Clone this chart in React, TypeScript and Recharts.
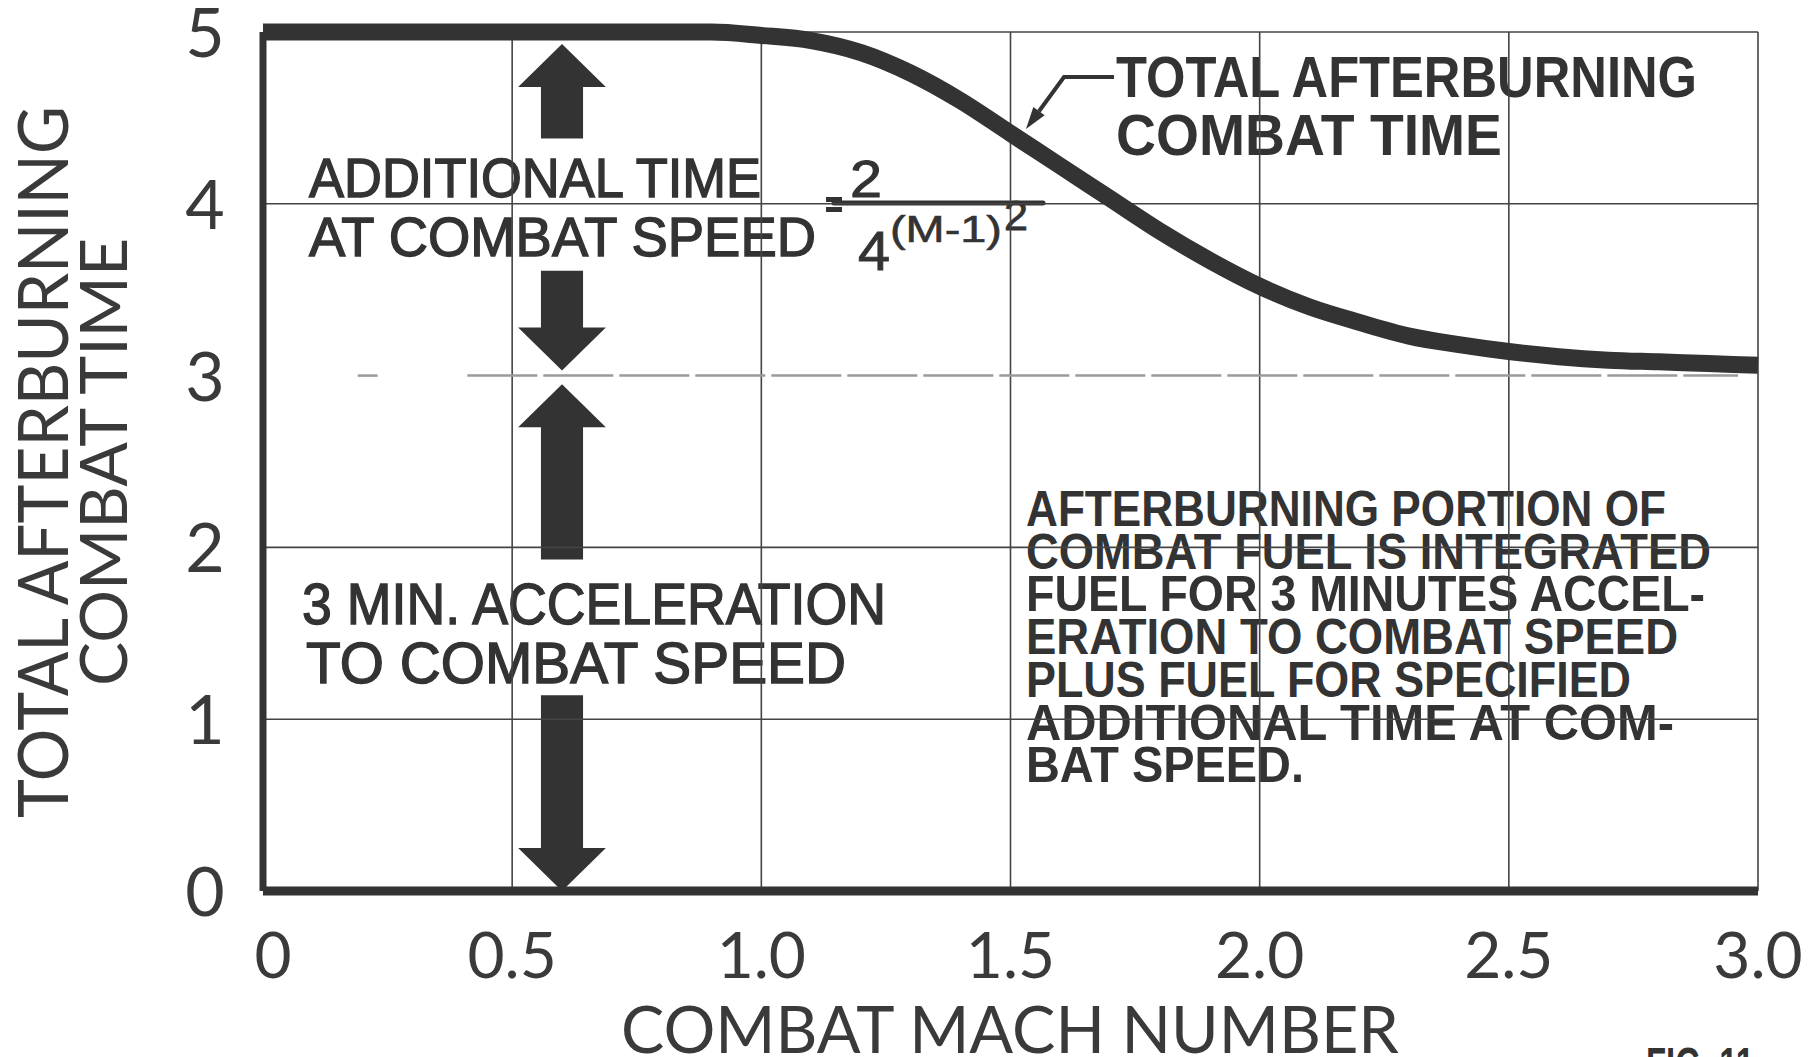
import React from 'react';
import { LineChart, Line, XAxis, YAxis, ReferenceLine, ReferenceArea, Customized } from 'recharts';

// curve (combat mach number vs total afterburning combat time, min)
const machNumber = [0, 0.3, 0.6, 0.8, 0.9, 1.0, 1.1, 1.2, 1.3, 1.4, 1.5, 1.6, 1.7, 1.8, 1.9, 2.0, 2.1, 2.2, 2.3, 2.4, 2.5, 2.6, 2.7, 2.8, 2.9, 3.0];
const totalTime = [5, 5, 5, 5, 5, 4.98, 4.95, 4.88, 4.76, 4.6, 4.41, 4.22, 4.03, 3.84, 3.67, 3.52, 3.4, 3.31, 3.23, 3.18, 3.14, 3.11, 3.09, 3.08, 3.07, 3.06];

const xTicks = [0, 0.5, 1.0, 1.5, 2.0, 2.5, 3.0];
const xTickLabels = ['0', '0.5', '1.0', '1.5', '2.0', '2.5', '3.0'];
const yTicks = [0, 1, 2, 3, 4, 5];
const xGrid = [0.5, 1.0, 1.5, 2.0, 2.5, 3.0];
const yGrid = [1, 2, 4, 5];

// the 3-minute baseline, drawn broken
const baseLevel = 3;
const baseSpans = [[0.19, 0.23], [0.41, 2.96]];

// big block arrows at M = 0.6
const arrowX = 0.6;
const arrowHalf = 0.088;
const arrows = [
  { dir: 'up', tip: 4.93, tail: 4.38 },
  { dir: 'down', tip: 3.03, tail: 3.61 },
  { dir: 'up', tip: 2.95, tail: 1.93 },
  { dir: 'down', tip: 0, tail: 1.14 },
];

const noteLines = [
  'AFTERBURNING PORTION OF',
  'COMBAT FUEL IS INTEGRATED',
  'FUEL FOR 3 MINUTES ACCEL-',
  'ERATION TO COMBAT SPEED',
  'PLUS FUEL FOR SPECIFIED',
  'ADDITIONAL TIME AT COM-',
  'BAT SPEED.',
];
const noteWidths = [640, 685, 679, 652, 605, 648, 278];

const data = machNumber.map((m, i) => ({ m, t: totalTime[i] }));

const INK = '#333';
const THIN = "Lato, 'Liberation Sans', sans-serif";
const NARROW = "'Liberation Sans Narrow', 'Liberation Sans', Arial, sans-serif";

const arrowShape = (dir: string) => (p: any) => {
  const { x, y, width, height } = p;
  const cx = x + width / 2;
  const s = width * 0.24;
  const head = 43;
  let pts: number[][];
  if (dir === 'up') {
    pts = [[cx, y], [x + width, y + head], [cx + s, y + head], [cx + s, y + height],
      [cx - s, y + height], [cx - s, y + head], [x, y + head]];
  } else {
    const b = y + height;
    pts = [[cx, b], [x + width, b - head], [cx + s, b - head], [cx + s, y],
      [cx - s, y], [cx - s, b - head], [x, b - head]];
  }
  return <polygon points={pts.map((q) => q.join(',')).join(' ')} fill={INK} />;
};

const XTick = (props: any) => {
  const { x, payload } = props;
  const i = xTicks.indexOf(payload.value);
  return (
    <text x={x + (payload.value === 0 ? 10 : 0)} y={978} textAnchor="middle"
      fontFamily={THIN} fontWeight={400} fontSize={64} fill="#3a3a3a">
      {i >= 0 ? xTickLabels[i] : payload.value}
    </text>
  );
};

const YTick = (props: any) => {
  const { y, payload } = props;
  return (
    <text x={205} y={y + 25} textAnchor="middle" fontFamily={THIN} fontWeight={400}
      fontSize={68} fill="#3a3a3a">
      {payload.value}
    </text>
  );
};

const Txt = ({ x, y, w, size, bold, sw = 1.4, children }: any) => (
  <text x={x} y={y} textLength={w} lengthAdjust="spacingAndGlyphs" fontSize={size}
    fontFamily={NARROW} fontWeight={bold ? 700 : 400} fill={INK}
    stroke={bold ? 'none' : INK} strokeWidth={bold ? 0 : sw}>
    {children}
  </text>
);

const Annotations = () => {
  // leader arrow to the curve
  const tip = [1026, 129];
  const knee = [1064, 77];
  const dx = tip[0] - knee[0];
  const dy = tip[1] - knee[1];
  const len = Math.hypot(dx, dy);
  const u = [dx / len, dy / len];
  const n = [-u[1], u[0]];
  const base = [tip[0] - 22 * u[0], tip[1] - 22 * u[1]];
  const head = [tip, [base[0] + 7 * n[0], base[1] + 7 * n[1]], [base[0] - 7 * n[0], base[1] - 7 * n[1]]];

  return (
    <g>
      {/* axis titles */}
      <text transform="translate(68,462) rotate(-90)" textAnchor="middle" textLength={712}
        lengthAdjust="spacingAndGlyphs" fontFamily={THIN} fontWeight={400} fontSize={70} fill="#3a3a3a">
        TOTAL AFTERBURNING
      </text>
      <text transform="translate(127,462) rotate(-90)" textAnchor="middle" textLength={448}
        lengthAdjust="spacingAndGlyphs" fontFamily={THIN} fontWeight={400} fontSize={66} fill="#3a3a3a">
        COMBAT TIME
      </text>
      <text x={1010} y={1053} textAnchor="middle" textLength={778} lengthAdjust="spacingAndGlyphs"
        fontFamily={THIN} fontWeight={400} fontSize={66} fill="#3a3a3a">
        COMBAT MACH NUMBER
      </text>
      <text x={1646} y={1081} textLength={108} lengthAdjust="spacingAndGlyphs"
        fontFamily={NARROW} fontWeight={700} fontSize={48} fill={INK}>FIG. 11</text>

      {/* additional time formula */}
      <Txt x={309} y={197} w={452} size={56}>ADDITIONAL TIME</Txt>
      <Txt x={309} y={256} w={507} size={56}>AT COMBAT SPEED</Txt>
      <rect x={826} y={197} width={16} height={5} fill={INK} />
      <rect x={826} y={207} width={16} height={5} fill={INK} />
      <Txt x={850} y={197} w={32} size={52} sw={1}>2</Txt>
      <line x1={834} y1={203} x2={1043} y2={203} stroke={INK} strokeWidth={5} strokeLinecap="round" />
      <Txt x={858} y={270} w={32} size={56} sw={1}>4</Txt>
      <Txt x={890} y={242} w={112} size={36} sw={0.6}>(M-1)</Txt>
      <Txt x={1004} y={230} w={24} size={42} sw={0.8}>2</Txt>

      {/* curve label */}
      <Txt x={1116} y={97} w={581} size={58} bold>TOTAL AFTERBURNING</Txt>
      <Txt x={1116} y={155} w={386} size={58} bold>COMBAT TIME</Txt>
      <polyline points={`1114,77 ${knee[0]},${knee[1]} ${base[0]},${base[1]}`} fill="none" stroke={INK} strokeWidth={4} />
      <polygon points={head.map((q) => q.join(',')).join(' ')} fill={INK} />

      {/* acceleration label */}
      <Txt x={302} y={624} w={584} size={58}>3 MIN. ACCELERATION</Txt>
      <Txt x={306} y={683} w={540} size={58}>TO COMBAT SPEED</Txt>

      {/* note block */}
      {noteLines.map((s, i) => (
        <Txt key={s} x={1026} y={526 + i * 42.7} w={noteWidths[i]} size={50} bold>{s}</Txt>
      ))}
    </g>
  );
};

export default function App() {
  return (
    <div style={{ position: 'absolute', left: 0, top: 0, width: 1808, height: 1057, background: '#fff' }}>
      <LineChart width={1808} height={1057} data={data}
        margin={{ top: 32, right: 50, bottom: 66, left: 163 }}>
        <XAxis dataKey="m" type="number" domain={[0, 3]} ticks={xTicks} interval={0}
          tickLine={false} axisLine={{ stroke: INK, strokeWidth: 9 }} tick={<XTick />} height={100} />
        <YAxis type="number" domain={[0, 5]} ticks={yTicks} interval={0}
          tickLine={false} axisLine={{ stroke: INK, strokeWidth: 7 }} tick={<YTick />} width={100} />

        {xGrid.map((v) => (
          <ReferenceLine key={'x' + v} x={v} stroke="#444" strokeWidth={1.6} />
        ))}
        {yGrid.map((v) => (
          <ReferenceLine key={'y' + v} y={v} stroke="#444" strokeWidth={1.6} />
        ))}
        {baseSpans.map(([a, b]) => (
          <ReferenceLine key={'b' + a} segment={[{ x: a, y: baseLevel }, { x: b, y: baseLevel }]}
            stroke="#9a9a9a" strokeWidth={2.5} strokeDasharray="70 6" />
        ))}

        <Customized component={Annotations} />

        {arrows.map((a, i) => (
          <ReferenceArea key={'a' + i} x1={arrowX - arrowHalf} x2={arrowX + arrowHalf}
            y1={Math.min(a.tip, a.tail)} y2={Math.max(a.tip, a.tail)} shape={arrowShape(a.dir)} />
        ))}

        <Line type="monotone" dataKey="t" stroke={INK} strokeWidth={17} dot={false}
          isAnimationActive={false} />
      </LineChart>
    </div>
  );
}
